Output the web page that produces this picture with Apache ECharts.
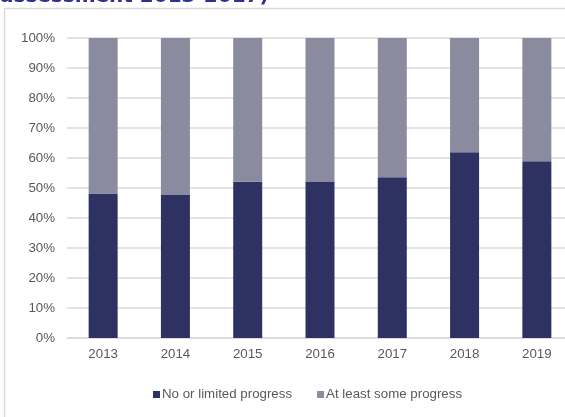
<!DOCTYPE html>
<html>
<head>
<meta charset="utf-8">
<script src="https://cdn.jsdelivr.net/npm/echarts@6/dist/echarts.min.js"></script>
<style>
  html, body { margin: 0; padding: 0; background: #fff; overflow: hidden; }
  #chart { width: 565px; height: 417px; }
</style>
</head>
<body>
<div id="chart"></div>
<script>
// Share of recommendations by progress level, per assessment year (%)
const years = ['2013', '2014', '2015', '2016', '2017', '2018', '2019'];
const noOrLimited = [48.2, 47.7, 52.1, 52.0, 53.6, 61.9, 58.9];
const atLeastSome = [51.8, 52.3, 47.9, 48.0, 46.4, 38.1, 41.1];
const seriesNames = ['No or limited progress', 'At least some progress'];
const headingText = 'assessment 2013-2017)';

const chart = echarts.init(document.getElementById('chart'), null, { renderer: 'canvas' });

const labelFont = 'Liberation Sans, Arial, sans-serif';

chart.setOption({
  animation: false,
  backgroundColor: '#ffffff',
  textStyle: { fontFamily: labelFont },
  graphic: [
    {
      type: 'text',
      left: 0,
      top: -13,
      style: {
        text: headingText,
        font: 'bold 20px "DejaVu Sans", sans-serif',
        fill: '#2E3192'
      }
    },
    {
      type: 'rect',
      shape: { x: 4.5, y: 8.5, width: 620, height: 460 },
      style: { fill: 'none', stroke: '#d9d9d9', lineWidth: 1.5 },
      silent: true
    }
  ],
  legend: {
    bottom: 11,
    left: 148,
    icon: 'rect',
    itemWidth: 7,
    itemHeight: 7,
    itemGap: 25,
    textStyle: { color: '#595959', fontSize: 13.3, fontFamily: labelFont, padding: [0, 0, 0, -3] },
    data: seriesNames
  },
  grid: { left: 67, width: 506, top: 38, bottom: 79, outerBoundsMode: 'none' },
  xAxis: {
    type: 'category',
    data: years,
    axisLine: { lineStyle: { color: '#d9d9d9', width: 1.5 } },
    axisTick: { show: false },
    axisLabel: { color: '#595959', fontSize: 13.3, margin: 10 }
  },
  yAxis: {
    type: 'value',
    min: 0,
    max: 100,
    interval: 10,
    axisLine: { show: false },
    axisTick: { show: false },
    axisLabel: { color: '#595959', fontSize: 13.3, margin: 12, formatter: '{value}%' },
    splitLine: { lineStyle: { color: '#d9d9d9', width: 1.5 } }
  },
  series: [
    {
      name: seriesNames[0],
      type: 'bar',
      stack: 'total',
      barWidth: 29,
      itemStyle: { color: '#2E3262' },
      data: noOrLimited
    },
    {
      name: seriesNames[1],
      type: 'bar',
      stack: 'total',
      barWidth: 29,
      itemStyle: { color: '#8B8BA0' },
      data: atLeastSome
    }
  ]
});
</script>
</body>
</html>
